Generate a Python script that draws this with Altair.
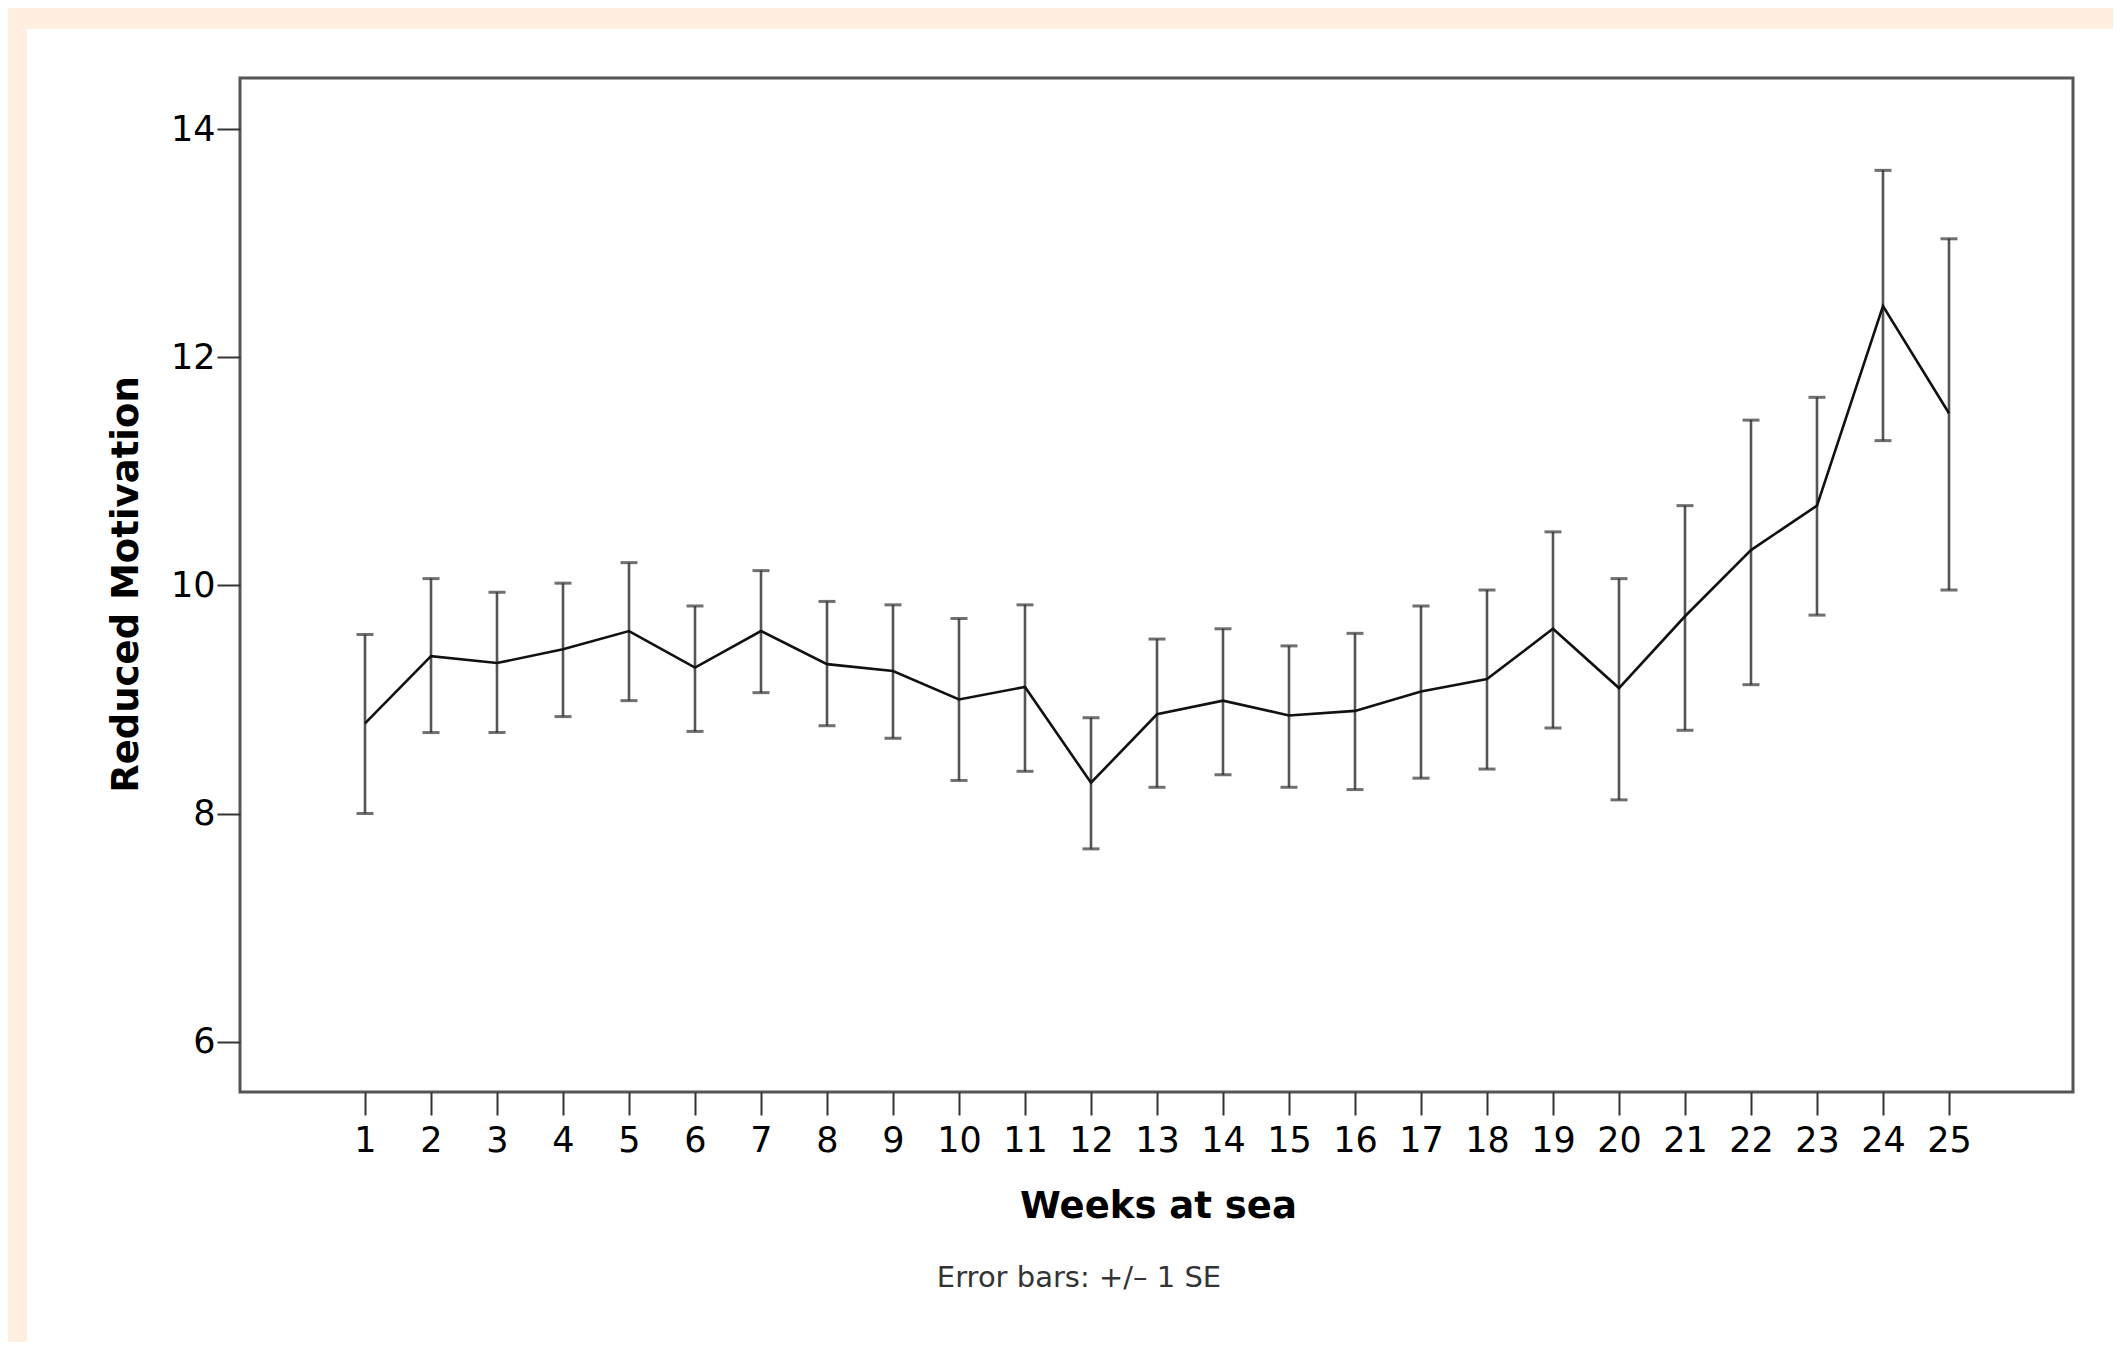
import altair as alt
import pandas as pd

weeks = list(range(1, 26))
means = [8.79, 9.38, 9.32, 9.44, 9.60, 9.28, 9.60, 9.31, 9.25, 9.00,
         9.11, 8.27, 8.87, 8.99, 8.86, 8.90, 9.07, 9.18, 9.62, 9.10,
         9.73, 10.31, 10.70, 12.45, 11.51]
upper = [9.57, 10.06, 9.94, 10.02, 10.20, 9.82, 10.13, 9.86, 9.83, 9.71,
         9.83, 8.84, 9.53, 9.62, 9.47, 9.58, 9.82, 9.96, 10.47, 10.06,
         10.70, 11.45, 11.65, 13.64, 13.04]
lower = [8.00, 8.71, 8.71, 8.85, 8.99, 8.72, 9.06, 8.77, 8.66, 8.29,
         8.37, 7.69, 8.23, 8.34, 8.23, 8.21, 8.31, 8.39, 8.75, 8.12,
         8.73, 9.13, 9.74, 11.27, 9.96]
y_ticks = [6, 8, 10, 12, 14]
x_title = "Weeks at sea"
y_title = "Reduced Motivation"
caption = "Error bars: +/\u2013 1 SE"

df = pd.DataFrame({"week": weeks, "mean": means, "upper": upper, "lower": lower})

W, H = 1833, 1014
FONT = "DejaVu Sans"

xs = alt.Scale(domain=[-0.894, 26.879], nice=False, zero=False)
ys = alt.Scale(domain=[5.558, 14.45], nice=False, zero=False)

xaxis = alt.Axis(values=weeks, format="d", title=x_title, grid=False, domain=False, zindex=1,
                 tickSize=23, tickWidth=2, tickColor="#333333",
                 labelFont=FONT, labelFontSize=35, labelColor="#000000",
                 labelPadding=8, labelFlush=False, labelOverlap=False,
                 titleFont=FONT, titleFontSize=37, titleFontWeight="bold",
                 titleColor="#000000", titleBaseline="alphabetic",
                 titleX=918, titleY=125)
yaxis = alt.Axis(values=y_ticks, format="d", title=y_title, grid=False, domain=False, zindex=1,
                 tickSize=23, tickWidth=2, tickColor="#333333",
                 labelFont=FONT, labelFontSize=35, labelColor="#000000",
                 labelPadding=2, labelFlush=False,
                 titleFont=FONT, titleFontSize=37, titleFontWeight="bold",
                 titleColor="#000000", titleBaseline="alphabetic",
                 titleX=-103, titleY=506, titleAngle=-90)

base = alt.Chart(df)
one = alt.Data(values=[{"a": 1}])

bg = alt.Chart(one).mark_rect(color="white").encode(
    x=alt.value(-213), x2=alt.value(W + 60), y=alt.value(-49), y2=alt.value(H + 300)
)
frame = alt.Chart(one).mark_rect(fill=None, stroke="#555555", strokeWidth=3, fillOpacity=0).encode(
    x=alt.value(0), x2=alt.value(W), y=alt.value(0), y2=alt.value(H)
)

rules = base.mark_rule(color="#555555", strokeWidth=2.6).encode(
    x=alt.X("week:Q", scale=xs, axis=xaxis),
    y=alt.Y("lower:Q", scale=ys, axis=yaxis),
    y2="upper:Q",
)
caps_top = base.mark_tick(color="#333333", orient="horizontal", size=17, thickness=3).encode(
    x=alt.X("week:Q", scale=xs), y=alt.Y("upper:Q", scale=ys)
)
caps_bot = base.mark_tick(color="#333333", orient="horizontal", size=17, thickness=3).encode(
    x=alt.X("week:Q", scale=xs), y=alt.Y("lower:Q", scale=ys)
)
line = base.mark_line(color="#111111", strokeWidth=2.6).encode(
    x=alt.X("week:Q", scale=xs), y=alt.Y("mean:Q", scale=ys)
)
cap_text = alt.Chart(alt.Data(values=[{"t": caption}])).mark_text(
    font=FONT, fontSize=29, color="#333333", align="center", baseline="alphabetic"
).encode(x=alt.value(839), y=alt.value(1208.7), text="t:N")

chart = alt.layer(bg, frame, rules, caps_top, caps_bot, line, cap_text).properties(
    width=W, height=H,
    autosize=alt.AutoSizeParams(type="none"),
    padding={"left": 232, "top": 70, "right": 40, "bottom": 250},
    background="#FFEFE0",
).configure_view(stroke=None)

chart.save("out.html", embed_options={"renderer": "svg", "actions": False})
